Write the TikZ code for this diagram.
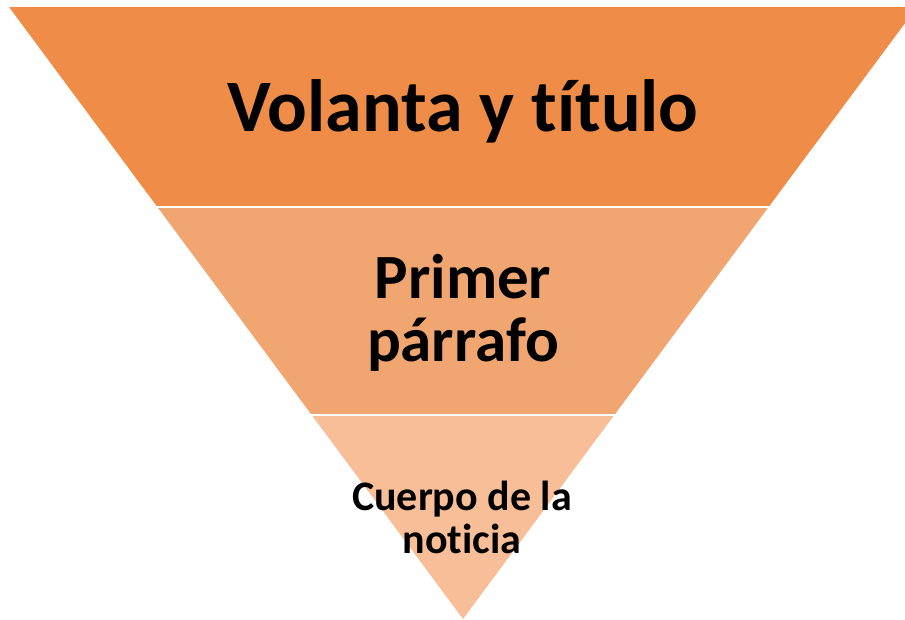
\documentclass[tikz,border=0pt]{standalone}
\usepackage{fontspec}
\setmainfont[Ligatures=NoCommon]{Carlito}
\usetikzlibrary{calc}

\definecolor{bandone}{RGB}{239,140,72}
\definecolor{bandtwo}{RGB}{241,166,113}
\definecolor{bandthree}{RGB}{247,190,152}

\begin{document}
\begin{tikzpicture}[x=1pt,y=-1pt,
  label/.style={font=\bfseries, align=center, inner sep=0pt}]
  \useasboundingbox (0,0) rectangle (905,619);
  \clip (0,0) rectangle (905,619);
  \coordinate (L) at (9,7);
  \coordinate (R) at (917,7);
  \coordinate (A) at (463,619);
  \coordinate (L1) at ($(L)!0.327!(A)$);
  \coordinate (R1) at ($(R)!0.327!(A)$);
  \coordinate (L2) at ($(L)!0.667!(A)$);
  \coordinate (R2) at ($(R)!0.667!(A)$);
  \fill[bandone] (L) -- (R) -- (R1) -- (L1) -- cycle;
  \fill[bandtwo] (L1) -- (R1) -- (R2) -- (L2) -- cycle;
  \fill[bandthree] (L2) -- (R2) -- (A) -- cycle;
  \draw[white, line width=2.5pt] ($(L1)+(-3,0)$) -- ($(R1)+(3,0)$);
  \draw[white, line width=2.5pt] ($(L2)+(-3,0)$) -- ($(R2)+(3,0)$);
  \node[label, font=\fontsize{74}{78}\selectfont\bfseries, anchor=base] (volanta) at (463,131) {Volanta y título};
  \node[label, font=\fontsize{63}{63}\selectfont\bfseries] (primer) at (463,313) {Primer\\párrafo};
  \node[label, font=\fontsize{42}{43}\selectfont\bfseries] (cuerpo) at (462,517) {Cuerpo de la\\noticia};
\end{tikzpicture}
\end{document}
